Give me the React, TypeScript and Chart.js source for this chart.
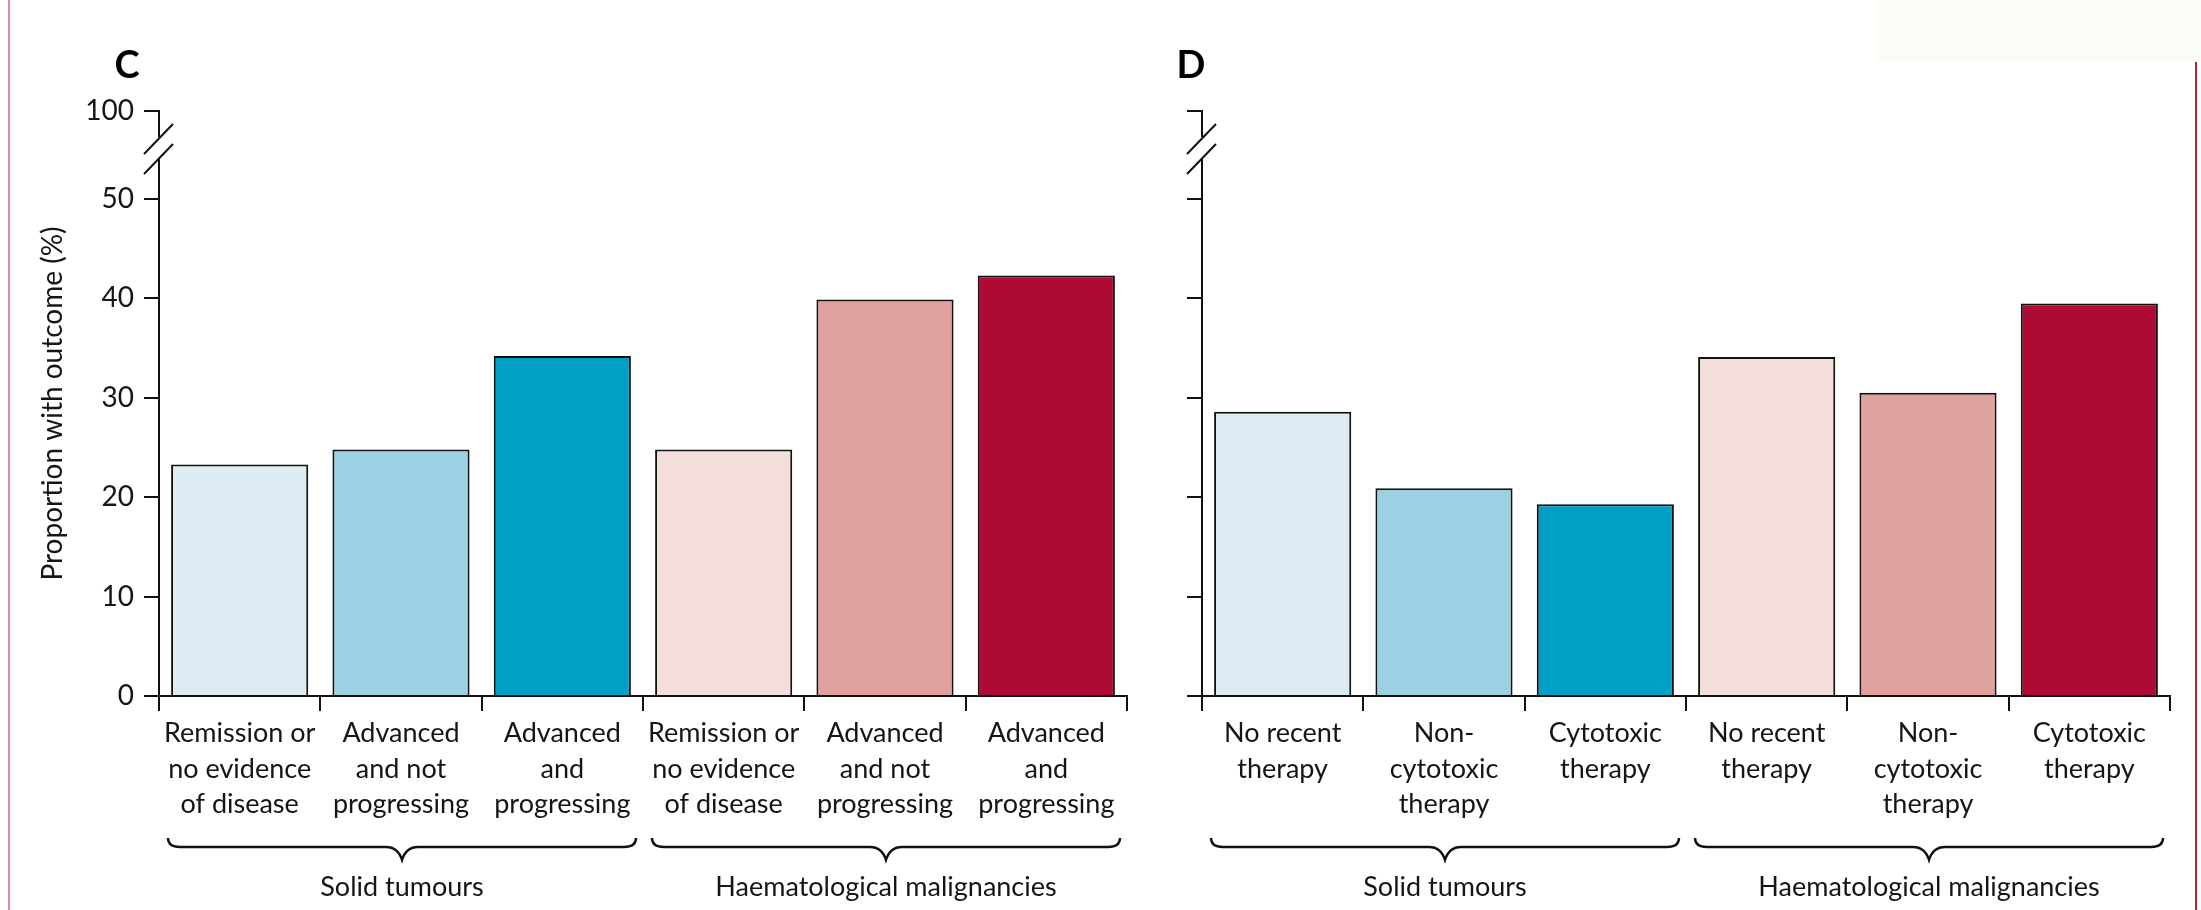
import React, { useEffect, useRef } from 'react';
import { Chart, registerables } from 'chart.js';

Chart.register(...registerables);

const FONT = 'Lato, "Open Sans", sans-serif';
const TEXT = '#151515';

// ---------- data ----------
const panelCCategories: string[][] = [
  ['Remission or', 'no evidence', 'of disease'],
  ['Advanced', 'and not', 'progressing'],
  ['Advanced', 'and', 'progressing'],
  ['Remission or', 'no evidence', 'of disease'],
  ['Advanced', 'and not', 'progressing'],
  ['Advanced', 'and', 'progressing'],
];
const panelCValues = [23.3, 24.8, 34.2, 24.8, 39.9, 42.3];

const panelDCategories: string[][] = [
  ['No recent', 'therapy'],
  ['Non-', 'cytotoxic', 'therapy'],
  ['Cytotoxic', 'therapy'],
  ['No recent', 'therapy'],
  ['Non-', 'cytotoxic', 'therapy'],
  ['Cytotoxic', 'therapy'],
];
const panelDValues = [28.6, 20.9, 19.3, 34.1, 30.5, 39.5];

const barColors = ['#dcebf4', '#9bd1e2', '#009fc5', '#f3dedc', '#e0a29e', '#ae0a33'];

const groupLabels = ['Solid tumours', 'Haematological malignancies'];
const groupSpans = [
  [0, 2],
  [3, 5],
];

const yTickValues = [0, 10, 20, 30, 40, 50];
const yBreakLabel = '100';
// axis position (above the break) where the "100" tick is shown
const Y_BREAK_TOP = 58.86;
const yTitle = 'Proportion with outcome (%)';

// ---------- plugin ----------
const decorPlugin = {
  id: 'decor',
  afterDraw(chart: any, _args: any, opts: any) {
    const { ctx, chartArea, scales } = chart;
    const y = scales.y;
    const n = chart.data.labels.length;
    const ax = chartArea.left;
    const yTop = y.getPixelForValue(Y_BREAK_TOP);
    ctx.save();
    ctx.strokeStyle = '#111';
    ctx.lineWidth = 2;
    ctx.lineCap = 'butt';
    // broken y axis
    ctx.beginPath();
    ctx.moveTo(ax, yTop - 1);
    ctx.lineTo(ax, yTop + 26);
    ctx.moveTo(ax, yTop + 47);
    ctx.lineTo(ax, chartArea.bottom);
    ctx.stroke();
    ctx.beginPath();
    ctx.moveTo(ax - 15, yTop + 43);
    ctx.lineTo(ax + 14, yTop + 13);
    ctx.moveTo(ax - 15, yTop + 63);
    ctx.lineTo(ax + 14, yTop + 33);
    ctx.stroke();

    // braces + group labels
    const cw = (chartArea.right - chartArea.left) / n;
    const yEnd = chartArea.bottom + 142;
    const yLine = chartArea.bottom + 151;
    const yTip = chartArea.bottom + 164;
    ctx.lineWidth = 2.4;
    groupSpans.forEach(([from, to], gi) => {
      const x0 = chartArea.left + from * cw + 9;
      const x1 = chartArea.left + (to + 1) * cw - 7;
      const xm = (x0 + x1) / 2;
      ctx.beginPath();
      ctx.moveTo(x0, yEnd);
      ctx.quadraticCurveTo(x0, yLine, x0 + 12, yLine);
      ctx.lineTo(xm - 16, yLine);
      ctx.quadraticCurveTo(xm - 4, yLine, xm, yTip);
      ctx.quadraticCurveTo(xm + 4, yLine, xm + 16, yLine);
      ctx.lineTo(x1 - 12, yLine);
      ctx.quadraticCurveTo(x1, yLine, x1, yEnd);
      ctx.stroke();
      ctx.fillStyle = TEXT;
      ctx.font = `27px ${FONT}`;
      ctx.textAlign = 'center';
      ctx.textBaseline = 'middle';
      ctx.fillText(groupLabels[gi], xm, chartArea.bottom + 191);
    });

    // panel letter
    ctx.fillStyle = '#000';
    ctx.font = `bold 38px ${FONT}`;
    ctx.textAlign = 'center';
    ctx.textBaseline = 'middle';
    ctx.fillText(opts.letter, ax + opts.letterDx, 66);
    ctx.restore();
  },
};

function makeConfig(p: {
  letter: string;
  letterDx: number;
  categories: string[][];
  values: number[];
  showYLabels: boolean;
  leftWidth: number;
  rightPad: number;
}): any {
  return {
    type: 'bar',
    data: {
      labels: p.categories,
      datasets: [
        {
          data: p.values,
          backgroundColor: barColors,
          borderColor: '#111',
          borderWidth: 2,
          borderSkipped: 'bottom',
          barPercentage: 0.85,
          categoryPercentage: 1,
        },
      ],
    },
    plugins: [decorPlugin],
    options: {
      animation: false,
      responsive: false,
      devicePixelRatio: 1,
      layout: { padding: { top: 111, left: 0, right: p.rightPad, bottom: 0 } },
      plugins: {
        legend: { display: false },
        tooltip: { enabled: false },
        decor: { letter: p.letter, letterDx: p.letterDx },
      },
      scales: {
        x: {
          type: 'category',
          offset: true,
          grid: {
            offset: true,
            drawOnChartArea: false,
            drawTicks: true,
            tickLength: 15,
            color: '#111',
            lineWidth: 2,
          },
          border: { display: true, color: '#111', width: 2 },
          ticks: {
            autoSkip: false,
            maxRotation: 0,
            minRotation: 0,
            padding: 5,
            color: TEXT,
            font: { family: FONT, size: 27, lineHeight: 1.315 },
          },
          afterFit: (scale: any) => {
            scale.height = 214;
          },
        },
        y: {
          type: 'linear',
          min: 0,
          max: Y_BREAK_TOP,
          afterBuildTicks: (scale: any) => {
            scale.ticks = [...yTickValues, Y_BREAK_TOP].map((v) => ({ value: v }));
          },
          grid: {
            drawOnChartArea: false,
            drawTicks: true,
            tickLength: 15,
            color: '#111',
            lineWidth: 2,
          },
          border: { display: false },
          ticks: {
            display: p.showYLabels,
            padding: 10,
            color: TEXT,
            font: { family: FONT, size: 28 },
            callback: (v: number) => (v === Y_BREAK_TOP ? yBreakLabel : String(v)),
          },
          title: {
            display: p.showYLabels,
            text: yTitle,
            color: TEXT,
            font: { family: FONT, size: 28, lineHeight: 1.2 },
            padding: { top: 36, bottom: 0 },
          },
          afterFit: (scale: any) => {
            scale.width = p.leftWidth;
          },
        },
      },
    },
  };
}

const W_A = 1140;
const W_B = 1061;
const H = 910;

export default function App() {
  const refA = useRef<HTMLCanvasElement>(null);
  const refB = useRef<HTMLCanvasElement>(null);

  useEffect(() => {
    const a = new Chart(
      refA.current as HTMLCanvasElement,
      makeConfig({
        letter: 'C',
        letterDx: -32,
        categories: panelCCategories,
        values: panelCValues,
        showYLabels: true,
        leftWidth: 159,
        rightPad: W_A - 1127,
      })
    );
    const b = new Chart(
      refB.current as HTMLCanvasElement,
      makeConfig({
        letter: 'D',
        letterDx: -11,
        categories: panelDCategories,
        values: panelDValues,
        showYLabels: false,
        leftWidth: 1202 - W_A,
        rightPad: W_A + W_B - 2170,
      })
    );
    return () => {
      a.destroy();
      b.destroy();
    };
  }, []);

  return (
    <div
      style={{
        position: 'absolute',
        left: 0,
        top: 0,
        width: 2201,
        height: H,
        background: '#fff',
        overflow: 'hidden',
      }}
    >
      <canvas
        ref={refA}
        width={W_A}
        height={H}
        style={{ position: 'absolute', left: 0, top: 0, width: W_A, height: H }}
      />
      <canvas
        ref={refB}
        width={W_B}
        height={H}
        style={{ position: 'absolute', left: W_A, top: 0, width: W_B, height: H }}
      />
      <div style={{ position: 'absolute', left: 8, top: 0, width: 2, height: H, background: '#d98ba0' }} />
      <div style={{ position: 'absolute', left: 1876, top: 0, width: 325, height: 62, background: '#fcfcf6' }} />
      <div style={{ position: 'absolute', left: 2195, top: 62, width: 2, height: H - 62, background: '#b0283c' }} />
    </div>
  );
}
